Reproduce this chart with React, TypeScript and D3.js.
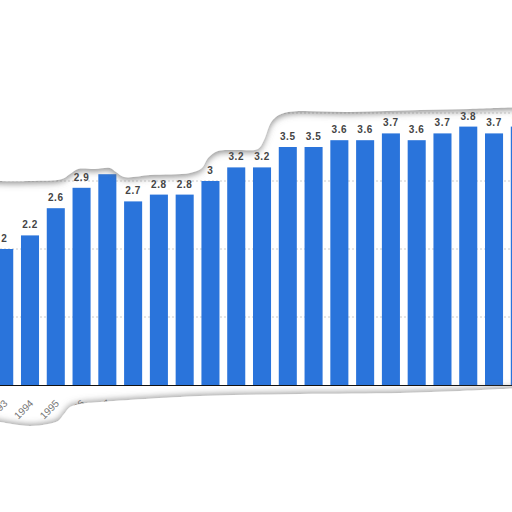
import React from "react";
import * as d3 from "d3";

const years = ["1993","1994","1995","1996","1997","1998","1999","2000","2001","2002","2003","2004","2005","2006","2007","2008","2009","2010","2011","2012","2013"];
const values = [2, 2.2, 2.6, 2.9, 3.1, 2.7, 2.8, 2.8, 3, 3.2, 3.2, 3.5, 3.5, 3.6, 3.6, 3.7, 3.6, 3.7, 3.8, 3.7, 3.8];
const gridTicks = [1, 2, 3, 4];

const topEdge: [number, number][] = [
  [-10, 181], [30, 181], [62, 179], [70, 174], [78, 169], [95, 169], [110, 168], [116, 172], [124, 177],
  [150, 175], [190, 173], [202, 168], [208, 158], [218, 151], [240, 150], [258, 149], [264, 140],
  [272, 121], [284, 113], [350, 112], [420, 110], [470, 109], [522, 107]
];
const bottomEdge: [number, number][] = [
  [-10, 420], [12, 424], [30, 426], [48, 424], [58, 421], [64, 414], [70, 407], [80, 404], [100, 402],
  [200, 396], [300, 394], [400, 393], [460, 391], [522, 388]
];

export default function App() {
  const W = 512, H = 512;
  const x = d3.scaleBand<string>().domain(years).range([-8.67, 532.7]).paddingInner(0.3).paddingOuter(0.15);
  const y = d3.scaleLinear().domain([0, 4]).range([385, 113]);
  const line = d3.line<[number, number]>().curve(d3.curveCatmullRom);
  const topPath = line(topEdge) + ` L522,-20 L-10,-20 Z`;
  const botPath = line(bottomEdge) + ` L522,540 L-10,540 Z`;
  return (
    <svg width={W} height={H} style={{ position: "absolute", left: 0, top: 0, background: "#fff" }}>
      <defs>
        <filter id="shTop" x="-10%" y="-10%" width="120%" height="130%">
          <feDropShadow dx="0" dy="2.5" stdDeviation="3" floodColor="#666" floodOpacity="0.7" />
        </filter>
        <filter id="shBot" x="-10%" y="-30%" width="120%" height="140%">
          <feDropShadow dx="0" dy="-1.5" stdDeviation="3.2" floodColor="#666" floodOpacity="0.65" />
        </filter>
      </defs>
      <rect width={W} height={H} fill="#fff" />
      {gridTicks.map(t => (
        <line key={t} x1={0} x2={W} y1={y(t)} y2={y(t)} stroke="#ccc" strokeDasharray="2,2" strokeWidth={1} />
      ))}
      {years.map((yr, i) => (
        <rect key={yr} x={x(yr)!} y={y(values[i])} width={x.bandwidth()} height={y(0) - y(values[i])} fill="#2a74db" />
      ))}
      {years.map((yr, i) => (
        <text key={"l" + yr} x={x(yr)! + x.bandwidth() / 2} y={y(values[i]) - 7} textAnchor="middle"
          fontFamily="Liberation Sans, Arial, sans-serif" fontWeight="bold" fontSize={10} letterSpacing={0.6} fill="#444">
          {String(values[i])}
        </text>
      ))}
      <line x1={0} x2={W} y1={385.5} y2={385.5} stroke="#111" strokeWidth={1.2} />
      {years.map((yr) => {
        const cx = x(yr)! + x.bandwidth() / 2;
        return (
          <text key={"x" + yr} transform={`translate(${cx + 4},${404}) rotate(-45)`} textAnchor="end"
            fontFamily="Liberation Sans, Arial, sans-serif" fontSize={10} fill="#777">
            {yr}
          </text>
        );
      })}
      <path d={topPath} fill="#fff" filter="url(#shTop)" />
      <path d={botPath} fill="#fff" filter="url(#shBot)" />
    </svg>
  );
}
